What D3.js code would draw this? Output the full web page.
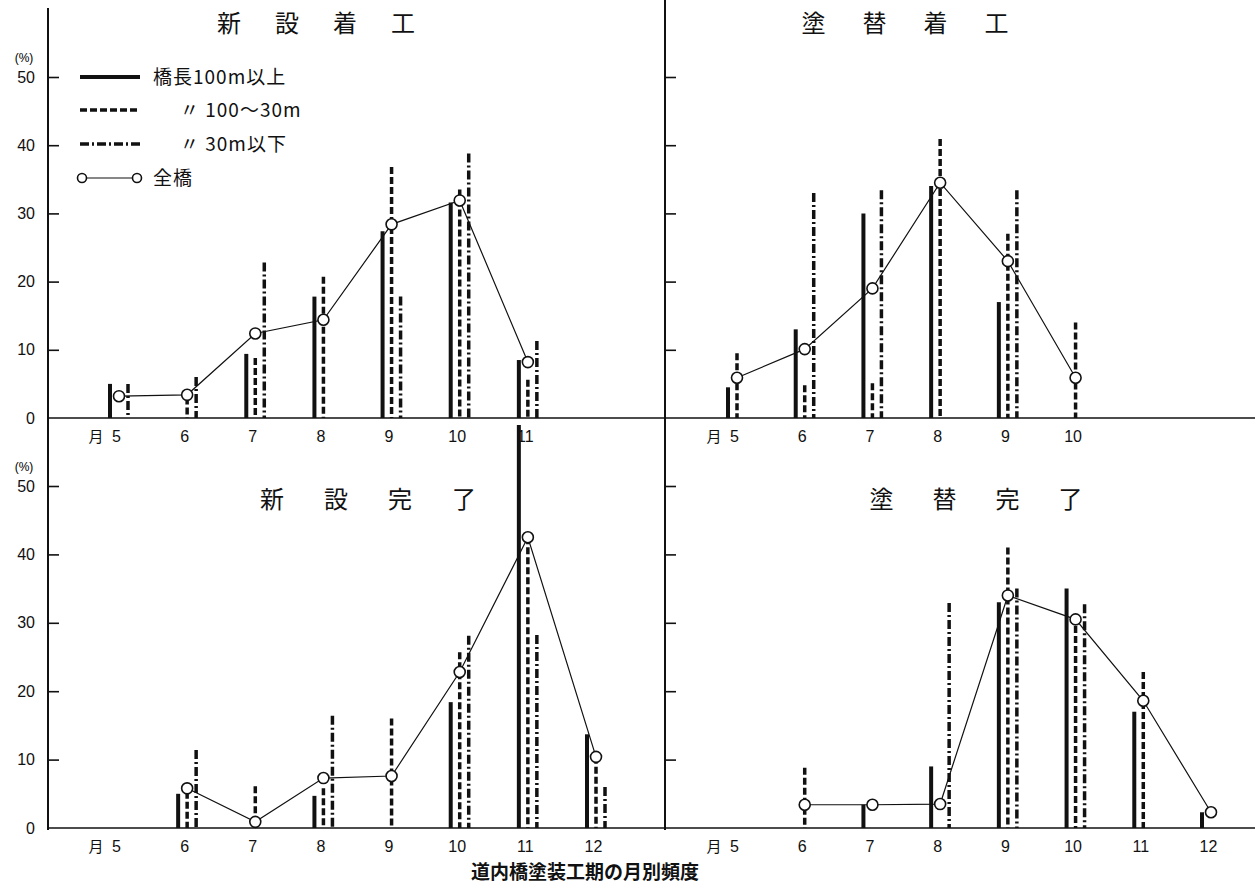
<!DOCTYPE html>
<html>
<head>
<meta charset="utf-8">
<script src="https://cdn.jsdelivr.net/npm/d3@7"></script>
<style>
  body { margin: 0; background: #fff; }
  svg { display: block; }
  .tick text { font-family: "Liberation Sans", "DejaVu Sans", sans-serif; font-size: 16px; fill: #111; }
  .jp { font-family: "Noto Sans CJK JP", sans-serif; fill: #111; }
</style>
</head>
<body>
<div id="chart"></div>
<script>
// ---- data (percent of bridges per month) ----
const seriesNames = ["橋長100m以上", "100～30m", "30m以下", "全橋"];
const yTicks = [0, 10, 20, 30, 40, 50];

// 新設着工
const newStartMonths = [5, 6, 7, 8, 9, 10, 11];
const newStartLong  = [5, null, 9.4, 17.8, 27.4, 31.6, 8.5];
const newStartMid   = [null, 3, 8.8, 20.7, 36.8, 33.5, 5.6];
const newStartShort = [5, 6, 22.8, null, 17.8, 38.8, 11.3];
const newStartAll   = [3.2, 3.4, 12.4, 14.4, 28.4, 31.9, 8.2];

// 塗替着工
const rePaintStartMonths = [5, 6, 7, 8, 9, 10];
const rePaintStartLong  = [4.5, 13, 30, 34, 17, null];
const rePaintStartMid   = [9.5, 4.8, 5.1, 40.9, 27, 14];
const rePaintStartShort = [null, 33, 33.4, null, 33.4, null];
const rePaintStartAll   = [5.9, 10.1, 19, 34.5, 23, 5.9];

// 新設完了
const newEndMonths = [6, 7, 8, 9, 10, 11, 12];
const newEndLong  = [5, null, 4.7, null, 18.4, 58.9, 13.7];
const newEndMid   = [5.3, 6.1, 5.8, 16, 25.7, 42.5, 10.4];
const newEndShort = [11.4, null, 16.4, null, 28.1, 28.2, 6];
const newEndAll   = [5.8, 0.9, 7.3, 7.6, 22.8, 42.5, 10.4];

// 塗替完了
const rePaintEndMonths = [6, 7, 8, 9, 10, 11, 12];
const rePaintEndLong  = [null, 3.4, 9, 33, 35, 17, 2.3];
const rePaintEndMid   = [8.8, null, null, 41, 31, 22.8, null];
const rePaintEndShort = [null, null, 32.9, 35, 32.7, null, null];
const rePaintEndAll   = [3.4, 3.4, 3.5, 34, 30.5, 18.6, 2.3];

const axisMonths = [5, 6, 7, 8, 9, 10, 11, 12];

// ---- layout ----
const width = 1257, height = 892;
const svg = d3.select("#chart").append("svg")
    .attr("width", width)
    .attr("height", height);

const leftX = 48, midX = 665, rightEnd = 1255;

// line styles for the three bridge-length groups
const styles = [
    {dash: null, w: 4, off: -9},
    {dash: "7,3", w: 3.5, off: 0},
    {dash: "9,3,2,3", w: 3.5, off: 9}
];

const panels = [
    {title: "新設着工", months: newStartMonths, series: [newStartLong, newStartMid, newStartShort], all: newStartAll,
     x: d3.scaleLinear().domain([5, 12]).range([119, 596]),
     y: d3.scaleLinear().domain([0, 50]).range([418, 77]),
     axisX: leftX, x2: midX, showLabels: true, tc: 316, tsp: 58, ty: 32, lastMonth: 11},
    {title: "塗替着工", months: rePaintStartMonths, series: [rePaintStartLong, rePaintStartMid, rePaintStartShort], all: rePaintStartAll,
     x: d3.scaleLinear().domain([5, 12]).range([737, 1211]),
     y: d3.scaleLinear().domain([0, 50]).range([418, 77]),
     axisX: midX, x2: rightEnd, showLabels: false, tc: 905, tsp: 61, ty: 32, lastMonth: 10},
    {title: "新設完了", months: newEndMonths, series: [newEndLong, newEndMid, newEndShort], all: newEndAll,
     x: d3.scaleLinear().domain([5, 12]).range([119, 596]),
     y: d3.scaleLinear().domain([0, 50]).range([828, 486]),
     axisX: leftX, x2: midX, showLabels: true, tc: 368, tsp: 64, ty: 508, lastMonth: 12},
    {title: "塗替完了", months: rePaintEndMonths, series: [rePaintEndLong, rePaintEndMid, rePaintEndShort], all: rePaintEndAll,
     x: d3.scaleLinear().domain([5, 12]).range([737, 1211]),
     y: d3.scaleLinear().domain([0, 50]).range([828, 486]),
     axisX: midX, x2: rightEnd, showLabels: false, tc: 976, tsp: 63, ty: 508, lastMonth: 12}
];

// full-height vertical frame lines
svg.append("line").attr("x1", leftX).attr("x2", leftX).attr("y1", 8).attr("y2", 830)
    .attr("stroke", "#111").attr("stroke-width", 2);
svg.append("line").attr("x1", midX).attr("x2", midX).attr("y1", 0).attr("y2", 830)
    .attr("stroke", "#111").attr("stroke-width", 2);

panels.forEach(function (p) {
    let g = svg.append("g");

    // baseline
    g.append("line")
        .attr("x1", p.axisX).attr("x2", p.x2)
        .attr("y1", p.y(0)).attr("y2", p.y(0))
        .attr("stroke", "#111").attr("stroke-width", 1.6);

    // y axis ticks pointing inward
    let yAxis = d3.axisLeft(p.y)
        .tickValues(yTicks)
        .tickSizeInner(-11)
        .tickSizeOuter(0)
        .tickPadding(p.showLabels ? 20 : 0)
        .tickFormat(p.showLabels ? d3.format("d") : "");
    let ya = g.append("g").attr("transform", "translate(" + p.axisX + ",0)").call(yAxis);
    ya.select(".domain").remove();
    ya.selectAll(".tick line").attr("stroke", "#111").attr("stroke-width", 1.6)
        .filter(d => d === 0).remove();
    ya.selectAll(".tick text").attr("dx", 7);
    if (p.showLabels) {
        g.append("text")
            .attr("x", 24).attr("y", p.y(50) - 15)
            .attr("text-anchor", "middle")
            .style("font-family", "Liberation Sans, sans-serif")
            .style("font-size", "12px")
            .text("(%)");
    }

    // month labels
    let xAxis = d3.axisBottom(p.x)
        .tickValues(axisMonths.filter(m => m <= p.lastMonth))
        .tickSize(0)
        .tickPadding(13)
        .tickFormat(d3.format("d"));
    let xa = g.append("g").attr("transform", "translate(0," + p.y(0) + ")").call(xAxis);
    xa.select(".domain").remove();
    xa.selectAll(".tick text").attr("dx", -3);
    g.append("text")
        .attr("class", "jp")
        .attr("x", p.x(5) - 23).attr("y", p.y(0) + 24)
        .attr("text-anchor", "middle")
        .style("font-size", "15px")
        .text("月");

    // title, spaced out characters
    let chars = Array.from(p.title);
    g.selectAll("text.title").data(chars).enter().append("text")
        .attr("class", "jp title")
        .attr("x", (d, i) => p.tc + (i - 1.5) * p.tsp)
        .attr("y", p.ty)
        .attr("text-anchor", "middle")
        .style("font-size", "24px")
        .text(d => d);

    // bars for the three length groups
    p.series.forEach(function (vals, si) {
        let st = styles[si];
        let pts = p.months.map((m, i) => ({m: m, v: vals[i]})).filter(d => d.v != null);
        g.selectAll("line.s" + si).data(pts).enter().append("line")
            .attr("class", "s" + si)
            .attr("x1", d => p.x(d.m) + st.off).attr("x2", d => p.x(d.m) + st.off)
            .attr("y1", d => p.y(d.v)).attr("y2", p.y(0))
            .attr("stroke", "#111")
            .attr("stroke-width", st.w)
            .attr("stroke-dasharray", st.dash);
    });

    // all bridges line
    let pts = p.months.map((m, i) => ({m: m, v: p.all[i]}));
    let line = d3.line().x(d => p.x(d.m)).y(d => p.y(d.v));
    g.append("path").datum(pts)
        .attr("d", line)
        .attr("fill", "none")
        .attr("stroke", "#111")
        .attr("stroke-width", 1.2);
    g.selectAll("circle").data(pts).enter().append("circle")
        .attr("cx", d => p.x(d.m)).attr("cy", d => p.y(d.v))
        .attr("r", 5.5)
        .attr("fill", "#fff")
        .attr("stroke", "#111")
        .attr("stroke-width", 1.6);
});

// legend
const legend = svg.append("g");
const legendY = [77, 110, 144, 178];
styles.forEach(function (st, i) {
    legend.append("line")
        .attr("x1", 80).attr("x2", 140)
        .attr("y1", legendY[i]).attr("y2", legendY[i])
        .attr("stroke", "#111").attr("stroke-width", st.w)
        .attr("stroke-dasharray", st.dash);
});
legend.append("line").attr("x1", 82).attr("x2", 137)
    .attr("y1", legendY[3]).attr("y2", legendY[3])
    .attr("stroke", "#111").attr("stroke-width", 1.2);
[82, 137].forEach(function (cx) {
    legend.append("circle").attr("cx", cx).attr("cy", legendY[3]).attr("r", 4.5)
        .attr("fill", "#fff").attr("stroke", "#111").attr("stroke-width", 1.6);
});
const legendText = [
    {x: 153, t: seriesNames[0]},
    {x: 180, t: "〃 " + seriesNames[1]},
    {x: 180, t: "〃 " + seriesNames[2]},
    {x: 153, t: seriesNames[3]}
];
legendText.forEach(function (d, i) {
    legend.append("text").attr("class", "jp")
        .attr("x", d.x).attr("y", legendY[i] + 7)
        .style("font-size", "19px")
        .style("letter-spacing", "1px")
        .text(d.t);
});

// caption
svg.append("text")
    .attr("class", "jp")
    .attr("x", 585).attr("y", 879)
    .attr("text-anchor", "middle")
    .style("font-size", "19px")
    .style("font-weight", "bold")
    .text("道内橋塗装工期の月別頻度");
</script>
</body>
</html>
